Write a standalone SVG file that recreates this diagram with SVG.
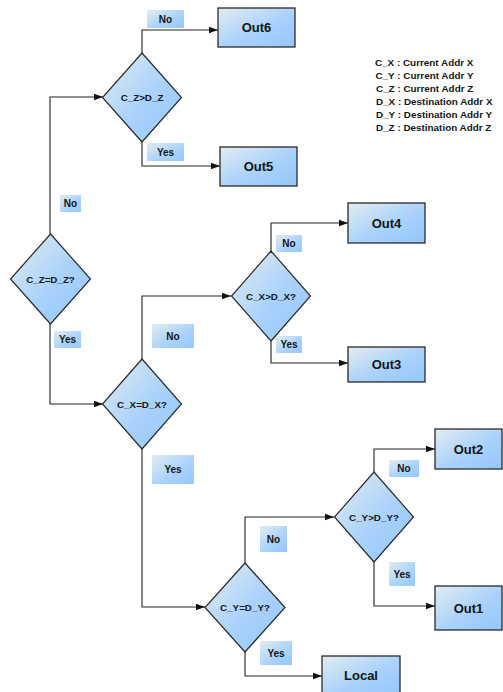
<svg xmlns="http://www.w3.org/2000/svg" width="503" height="692" viewBox="0 0 503 692">
<defs>
<linearGradient id="g" x1="0" y1="0" x2="1" y2="1">
<stop offset="0" stop-color="#e4ecf0"/>
<stop offset="0.55" stop-color="#a9d2fb"/>
<stop offset="1" stop-color="#94c6fb"/>
</linearGradient>
<linearGradient id="gl" x1="0" y1="0" x2="1" y2="1">
<stop offset="0" stop-color="#e2ecef"/>
<stop offset="0.6" stop-color="#a8d2fc"/>
<stop offset="1" stop-color="#96c8fc"/>
</linearGradient>
<marker id="arr" markerWidth="10" markerHeight="8" refX="9" refY="4" orient="auto" markerUnits="userSpaceOnUse">
<path d="M0,0.8 L9,4 L0,7.2 Z" fill="#111"/>
</marker>
</defs>
<style>
.box{fill:url(#g);stroke:#2a2a2a;stroke-width:1.3}
.dia{fill:url(#g);stroke:#2a2a2a;stroke-width:1.2}
.lab{fill:url(#gl);stroke:none}
.c{fill:none;stroke:#222;stroke-width:1.1;marker-end:url(#arr)}
text{font-family:"Liberation Sans",Arial,sans-serif;font-weight:bold;fill:#151515;text-anchor:middle}
.bt{font-size:13px}
.dt{font-size:9.8px}
.lt{font-size:10px}
.leg{font-size:9.9px;text-anchor:start}
</style>

<g id="connectors">
<path class="c" d="M50,234 V97 H103"/>
<path class="c" d="M142,53 V30 H218"/>
<path class="c" d="M142,142 V166 H220"/>
<path class="c" d="M50,324 V404 H103"/>
<path class="c" d="M142,359 V296 H231"/>
<path class="c" d="M271,251 V223 H348"/>
<path class="c" d="M271,341 V363 H348"/>
<path class="c" d="M142,449 V607 H205"/>
<path class="c" d="M245,563 V517 H334"/>
<path class="c" d="M374,472 V449 H435"/>
<path class="c" d="M374,562 V606 H435"/>
<path class="c" d="M245,652 V676 H322"/>
</g>

<g id="labels">
<g id="lbl-no-out6"><rect class="lab" x="147" y="10" width="37" height="18"/><text class="lt" x="165.5" y="22.5">No</text></g>
<g id="lbl-yes-out5"><rect class="lab" x="147" y="143" width="37" height="18"/><text class="lt" x="165.5" y="155.5">Yes</text></g>
<g id="lbl-no-cz"><rect class="lab" x="60" y="195" width="21" height="17"/><text class="lt" x="70.5" y="207">No</text></g>
<g id="lbl-yes-cz"><rect class="lab" x="54" y="331" width="27" height="17"/><text class="lt" x="67.5" y="343">Yes</text></g>
<g id="lbl-no-cx"><rect class="lab" x="152" y="324" width="42" height="24"/><text class="lt" x="173" y="339.5">No</text></g>
<g id="lbl-no-out4"><rect class="lab" x="276" y="235" width="26" height="17"/><text class="lt" x="289" y="247">No</text></g>
<g id="lbl-yes-out3"><rect class="lab" x="276" y="336" width="26" height="17"/><text class="lt" x="289" y="348">Yes</text></g>
<g id="lbl-yes-cx"><rect class="lab" x="152" y="455" width="42" height="29"/><text class="lt" x="173" y="473">Yes</text></g>
<g id="lbl-no-out2"><rect class="lab" x="389" y="460" width="30" height="17"/><text class="lt" x="404" y="472">No</text></g>
<g id="lbl-yes-out1"><rect class="lab" x="389" y="562" width="26" height="24"/><text class="lt" x="402" y="577.5">Yes</text></g>
<g id="lbl-no-cy"><rect class="lab" x="260" y="526" width="27" height="26"/><text class="lt" x="273.5" y="542.5">No</text></g>
<g id="lbl-yes-local"><rect class="lab" x="260" y="641" width="32" height="24"/><text class="lt" x="276" y="656.5">Yes</text></g>
</g>

<g id="n-out6"><rect class="box" x="218" y="8" width="77" height="39"/><text class="bt" x="256.5" y="32">Out6</text></g>
<g id="n-out5"><rect class="box" x="220" y="147" width="77" height="39"/><text class="bt" x="258.5" y="171">Out5</text></g>
<g id="n-out4"><rect class="box" x="348" y="203" width="77" height="40"/><text class="bt" x="386.5" y="227.5">Out4</text></g>
<g id="n-out3"><rect class="box" x="348" y="347" width="77" height="35"/><text class="bt" x="386.5" y="369">Out3</text></g>
<g id="n-out2"><rect class="box" x="435" y="429" width="67" height="40"/><text class="bt" x="468.5" y="453.5">Out2</text></g>
<g id="n-out1"><rect class="box" x="435" y="586" width="67" height="44"/><text class="bt" x="468.5" y="612.5">Out1</text></g>
<g id="n-local"><rect class="box" x="322" y="656" width="78" height="40"/><text class="bt" x="361" y="680">Local</text></g>

<g id="n-czgt"><polygon class="dia" points="142,53 181.5,97.5 142,142 102.5,97.5"/><text class="dt" x="142" y="101">C_Z&gt;D_Z</text></g>
<g id="n-czeq"><polygon class="dia" points="50.5,234 90.5,279 50.5,324 10.5,279"/><text class="dt" x="50.5" y="282.5">C_Z=D_Z?</text></g>
<g id="n-cxeq"><polygon class="dia" points="142,359 181.5,404 142,449 102.5,404"/><text class="dt" x="142" y="407.5">C_X=D_X?</text></g>
<g id="n-cxgt"><polygon class="dia" points="271,251 310.5,296 271,341 231.5,296"/><text class="dt" x="271" y="299.5">C_X&gt;D_X?</text></g>
<g id="n-cygt"><polygon class="dia" points="374,472 413.5,517 374,562 334.5,517"/><text class="dt" x="374" y="520.5">C_Y&gt;D_Y?</text></g>
<g id="n-cyeq"><polygon class="dia" points="245,563 285,607.5 245,652 205,607.5"/><text class="dt" x="245" y="611">C_Y=D_Y?</text></g>

<g id="legend">
<text class="leg" x="375" y="65.5">C_X : Current Addr X</text>
<text class="leg" x="375.5" y="78.5">C_Y : Current Addr Y</text>
<text class="leg" x="376" y="91.5">C_Z : Current Addr Z</text>
<text class="leg" x="376" y="104.5">D_X : Destination Addr X</text>
<text class="leg" x="376" y="117.5">D_Y : Destination Addr Y</text>
<text class="leg" x="376" y="130.5">D_Z : Destination Addr Z</text>
</g>
</svg>
